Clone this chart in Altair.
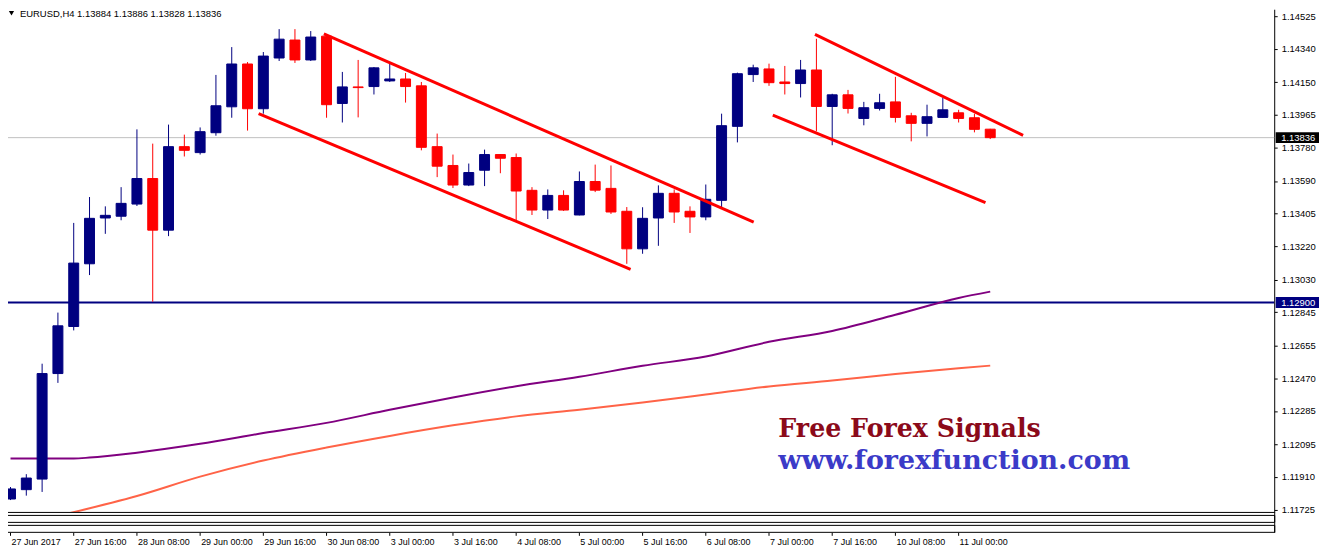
import altair as alt
import pandas as pd

# ---------------- data (EURUSD H4) ----------------
candle_index = list(range(63))
opens = [1.11785, 1.11838, 1.11898, 1.12497, 1.12764, 1.13120, 1.13380, 1.13390, 1.13459, 1.13604,
         1.13311, 1.13785, 1.13751, 1.13864, 1.14011, 1.14254, 1.14000, 1.14288, 1.14390, 1.14277,
         1.14412, 1.14030, 1.14124, 1.14126, 1.14158, 1.14169, 1.14130, 1.13785, 1.13678, 1.13567,
         1.13651, 1.13740, 1.13723, 1.13537, 1.13425, 1.13508, 1.13397, 1.13587, 1.13548, 1.13418,
         1.13205, 1.13380, 1.13520, 1.13418, 1.13386, 1.13480, 1.13900, 1.14194, 1.14226, 1.14152,
         1.14143, 1.14220, 1.14013, 1.14079, 1.13945, 1.14002, 1.14039, 1.13960, 1.13917, 1.13951,
         1.13977, 1.13949, 1.13884]
highs = [1.11853, 1.11926, 1.12553, 1.12843, 1.13352, 1.13499, 1.13446, 1.13555, 1.13883, 1.13802,
         1.13910, 1.13853, 1.13894, 1.14192, 1.14350, 1.14265, 1.14322, 1.14452, 1.14452, 1.14441,
         1.14424, 1.14209, 1.14277, 1.14237, 1.14260, 1.14203, 1.14152, 1.13859, 1.13740, 1.13689,
         1.13768, 1.13742, 1.13746, 1.13555, 1.13542, 1.13537, 1.13644, 1.13683, 1.13678, 1.13442,
         1.13441, 1.13565, 1.13542, 1.13446, 1.13570, 1.13972, 1.14205, 1.14250, 1.14256, 1.14243,
         1.14277, 1.14397, 1.14085, 1.14107, 1.14039, 1.14085, 1.14181, 1.13977, 1.14023, 1.14062,
         1.13994, 1.13972, 1.13886]
lows = [1.11779, 1.11804, 1.11825, 1.12444, 1.12742, 1.13056, 1.13290, 1.13367, 1.13448, 1.12905,
        1.13277, 1.13729, 1.13740, 1.13847, 1.13949, 1.13876, 1.13972, 1.14271, 1.14260, 1.14271,
        1.13949, 1.13922, 1.13951, 1.14081, 1.14152, 1.14035, 1.13764, 1.13612, 1.13550, 1.13561,
        1.13561, 1.13634, 1.13363, 1.13397, 1.13374, 1.13420, 1.13395, 1.13527, 1.13403, 1.13120,
        1.13177, 1.13222, 1.13352, 1.13295, 1.13367, 1.13442, 1.13809, 1.14152, 1.14130, 1.14081,
        1.14064, 1.13872, 1.13793, 1.13973, 1.13906, 1.13990, 1.13922, 1.13815, 1.13843, 1.13949,
        1.13922, 1.13866, 1.13828]
closes = [1.11842, 1.11904, 1.12497, 1.12768, 1.13124, 1.13378, 1.13395, 1.13463, 1.13604, 1.13311,
          1.13785, 1.13764, 1.13870, 1.14017, 1.14254, 1.14000, 1.14299, 1.14395, 1.14277, 1.14407,
          1.14023, 1.14124, 1.14120, 1.14232, 1.14169, 1.14126, 1.13781, 1.13674, 1.13567, 1.13638,
          1.13740, 1.13719, 1.13533, 1.13425, 1.13508, 1.13425, 1.13587, 1.13538, 1.13414, 1.13205,
          1.13378, 1.13520, 1.13414, 1.13386, 1.13486, 1.13904, 1.14199, 1.14232, 1.14148, 1.14143,
          1.14220, 1.14013, 1.14079, 1.14002, 1.14006, 1.14034, 1.13951, 1.13917, 1.13955, 1.13994,
          1.13945, 1.13883, 1.13836]

ma_purple_index = [0, 4, 5, 8, 12, 16, 20, 24, 28, 32, 36, 40, 44, 48, 52, 56, 60, 62]
ma_purple = [1.12015, 1.12015, 1.12020, 1.12048, 1.12098, 1.12159, 1.12217, 1.12291, 1.12361,
             1.12425, 1.12479, 1.12541, 1.12594, 1.12677, 1.12739, 1.12831, 1.12926, 1.12962]
ma_coral_index = [3, 8, 12, 16, 20, 24, 28, 32, 36, 40, 44, 48, 52, 56, 60, 62]
ma_coral = [1.11689, 1.11802, 1.11912, 1.12003, 1.12077, 1.12143, 1.12203, 1.12254,
            1.12292, 1.12333, 1.12378, 1.12424, 1.12457, 1.12494, 1.12527, 1.12542]

trend_id = ["a", "a", "b", "b", "c", "c", "d", "d"]
trend_index = [19.83, 47.03, 15.70, 39.24, 50.91, 64.08, 48.24, 61.70]
trend_price = [1.14425, 1.13356, 1.13973, 1.13089, 1.14422, 1.13849, 1.13964, 1.13467]

level_price = 1.12900

x_tick_index = [0, 4, 8, 12, 16, 20, 24, 28, 32, 36, 40, 44, 48, 52, 56, 60]
x_tick_labels = ["27 Jun 2017", "27 Jun 16:00", "28 Jun 08:00", "29 Jun 00:00", "29 Jun 16:00",
                 "30 Jun 08:00", "3 Jul 00:00", "3 Jul 16:00", "4 Jul 08:00", "5 Jul 00:00",
                 "5 Jul 16:00", "6 Jul 08:00", "7 Jul 00:00", "7 Jul 16:00", "10 Jul 08:00",
                 "11 Jul 00:00"]
y_ticks = [1.14525, 1.14340, 1.14150, 1.13965, 1.13780, 1.13590, 1.13405, 1.13220, 1.13030,
           1.12845, 1.12655, 1.12470, 1.12285, 1.12095, 1.11910, 1.11725]

brand_lines = ["Free Forex Signals", "www.forexfunction.com"]
brand_index = [48.59, 48.59]
brand_price = [1.12135, 1.11955]

# ---------------- tables ----------------
candles = pd.DataFrame({"k": candle_index, "open": opens, "high": highs,
                        "low": lows, "close": closes})
candles["dir"] = ["up" if c > o else "down" for o, c in zip(opens, closes)]
purple = pd.DataFrame({"k": ma_purple_index, "price": ma_purple})
coral = pd.DataFrame({"k": ma_coral_index, "price": ma_coral})
trends = pd.DataFrame({"id": trend_id, "k": trend_index, "price": trend_price})
xticks = pd.DataFrame({"k": x_tick_index, "label": x_tick_labels})
current = pd.DataFrame({"price": [closes[-1]]})
level = pd.DataFrame({"price": [level_price]})
boxes = pd.DataFrame({"price": [closes[-1], level_price],
                      "label": [f"{closes[-1]:.5f}", f"{level_price:.5f}"],
                      "fill": ["#000000", "#000080"]})
header = pd.DataFrame({"t": [f"EURUSD,H4  {opens[-1]:.5f} {highs[-1]:.5f} "
                             f"{lows[-1]:.5f} {closes[-1]:.5f}"]})
brand1 = pd.DataFrame({"k": [brand_index[0]], "price": [brand_price[0]], "t": [brand_lines[0]]})
brand2 = pd.DataFrame({"k": [brand_index[1]], "price": [brand_price[1]], "t": [brand_lines[1]]})
one = pd.DataFrame({"a": [0]})

FONT = "Liberation Sans"
W, H = 1272, 505

xsc = alt.Scale(domain=[0.15625, 79.65625], nice=False, zero=False)
ysc = alt.Scale(domain=[1.117116, 1.1456485], nice=False, zero=False)
yax = alt.Axis(orient="right", values=y_ticks, format=".5f", tickSize=3, labelPadding=4,
               domainColor="black", tickColor="black", labelColor="black",
               labelFont=FONT, labelFontSize=9.5, grid=False, title=None,
               labelOverlap=False, labelBound=False)


def X(f):
    return alt.X(f, type="quantitative", scale=xsc, axis=None)


def Y(f):
    return alt.Y(f, type="quantitative", scale=ysc, axis=yax)


dircolor = alt.Scale(domain=["up", "down"], range=["#000080", "#ff0000"])

cur_line = alt.Chart(current).mark_rule(color="#c0c0c0", strokeWidth=1).encode(y=Y("price"))
lvl_line = alt.Chart(level).mark_rule(color="#000080", strokeWidth=2).encode(y=Y("price"))
ma1 = alt.Chart(purple).mark_line(color="#800080", strokeWidth=2, clip=True,
                                  interpolate="monotone").encode(x=X("k"), y=Y("price"))
ma2 = alt.Chart(coral).mark_line(color="#ff6347", strokeWidth=2, clip=True,
                                 interpolate="monotone").encode(x=X("k"), y=Y("price"))
wicks = alt.Chart(candles).mark_rule(strokeWidth=1, clip=True).encode(
    x=X("k"), y=Y("low"), y2=alt.Y2("high"),
    color=alt.Color("dir:N", scale=dircolor, legend=None))
bodies = alt.Chart(candles).mark_bar(size=10, strokeWidth=1, clip=True).encode(
    x=X("k"), y=Y("open"), y2=alt.Y2("close"),
    color=alt.Color("dir:N", scale=dircolor, legend=None),
    stroke=alt.Stroke("dir:N", scale=dircolor, legend=None))
trend = alt.Chart(trends).mark_line(color="#ff0000", strokeWidth=3).encode(
    x=X("k"), y=Y("price"), detail="id:N")
wm1 = alt.Chart(brand1).mark_text(align="left", baseline="alphabetic", font="DejaVu Serif",
                                  fontWeight="bold", fontSize=25.4, color="#8b0a1a").encode(
    x=X("k"), y=Y("price"), text="t:N")
wm2 = alt.Chart(brand2).mark_text(align="left", baseline="alphabetic", font="DejaVu Serif",
                                  fontWeight="bold", fontSize=27, color="#3b3bc8").encode(
    x=X("k"), y=Y("price"), text="t:N")
head_tri = alt.Chart(one).mark_point(shape="triangle-down", filled=True, color="black",
                                     size=28, opacity=1).encode(
    x=alt.value(3.5), y=alt.value(4))
head_txt = alt.Chart(header).mark_text(align="left", baseline="middle", font=FONT,
                                       fontSize=9.5, color="black").encode(
    x=alt.value(12), y=alt.value(5), text="t:N")
box_rect = alt.Chart(boxes).mark_rect(yOffset=-5.5, y2Offset=5.5).encode(
    x=alt.value(1273.5), x2=alt.value(1317), y=Y("price"), y2=alt.Y2("price"),
    color=alt.Color("fill:N", scale=None))
box_txt = alt.Chart(boxes).mark_text(align="left", baseline="middle", font=FONT,
                                     fontSize=9.5, color="white").encode(
    x=alt.value(1279), y=Y("price"), text="label:N")

bottom_line = alt.Chart(one).mark_rule(color="black").encode(
    x=alt.value(-4), x2=alt.value(1272.5), y=alt.value(505.5))
sub1 = alt.Chart(one).mark_rect(fillOpacity=0, stroke="black", strokeWidth=1).encode(
    x=alt.value(-3.5), x2=alt.value(1272.5), y=alt.value(508.5), y2=alt.value(515.5))
sub2 = alt.Chart(one).mark_rect(fillOpacity=0, stroke="black", strokeWidth=1).encode(
    x=alt.value(-3.5), x2=alt.value(1272.5), y=alt.value(518.5), y2=alt.value(525.5))
right_ext = alt.Chart(one).mark_rule(color="black").encode(
    x=alt.value(1272.5), y=alt.value(505), y2=alt.value(526))
xtick_marks = alt.Chart(xticks).mark_rule(color="black").encode(
    x=X("k"), y=alt.value(526), y2=alt.value(529))
xtick_text = alt.Chart(xticks).mark_text(align="left", baseline="middle", dx=1, font=FONT,
                                         fontSize=9, color="black").encode(
    x=X("k"), y=alt.value(535), text="label:N")

chart = alt.layer(
    cur_line, lvl_line, ma1, ma2, wicks, bodies, trend, wm1, wm2,
    head_tri, head_txt, box_rect, box_txt,
    bottom_line, sub1, sub2, right_ext, xtick_marks, xtick_text,
).properties(
    width=W, height=H,
    autosize=alt.AutoSizeParams(type="none"),
    padding={"left": 0, "top": 0, "right": 46, "bottom": 36},
    background="white",
).configure_view(stroke=None)

chart.save("out.html", embed_options={"renderer": "svg", "actions": False})
